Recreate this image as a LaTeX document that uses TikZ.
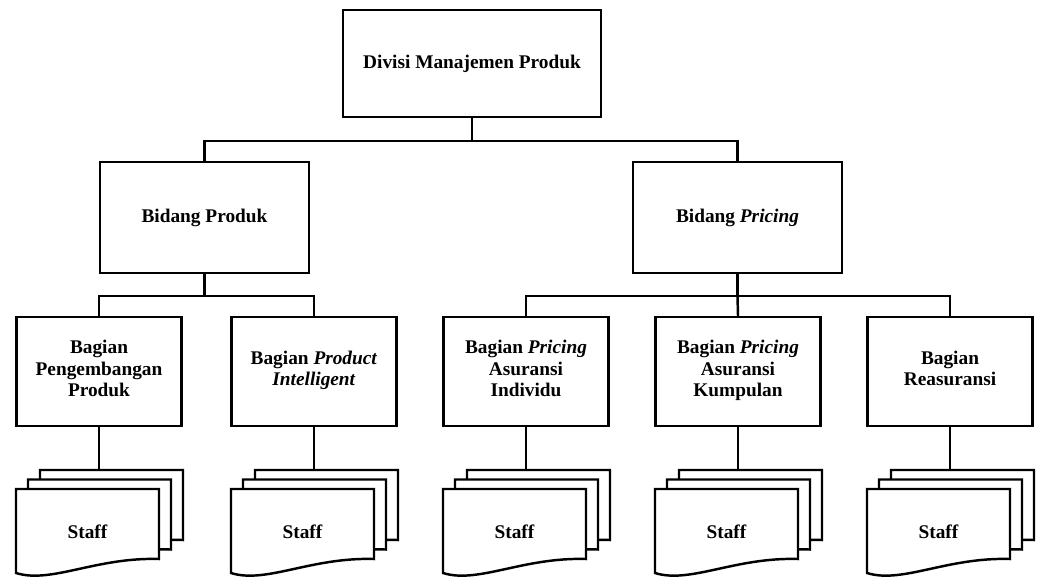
\documentclass[tikz,border=0pt]{standalone}
\usepackage{fontspec}
\setmainfont{Liberation Serif}

\begin{document}
\begin{tikzpicture}[
				x=0.02cm, y=-0.02cm,
				line width=1.4pt,
				box style/.style={
					draw,
					align=center,
					inner sep=2pt,
					font=\fontsize{11}{12}\selectfont\bfseries
				},
				top style/.style={box style, minimum width=5.16cm, minimum height=2.14cm},
				field style/.style={box style, minimum width=4.18cm, minimum height=2.22cm},
				unit style/.style={box style, minimum width=3.3cm, minimum height=2.18cm},
				staff stack/.pic={
					\foreach \dx/\dy in {24/-19,12/-9.5,0/0}
						\draw[fill=white, shift={(\dx,\dy)}] (0,0) -- (143,0) -- (143,70)
							.. controls (80,68) and (35,95) .. (0,84) -- cycle;
					\node[font=\fontsize{11}{12}\selectfont\bfseries] (-label) at (71.5,43) {Staff};
					\coordinate (-top) at (83,-19);
				}
				]
				
				\useasboundingbox (0,0) rectangle (1038,579);
				
				% top level
				\node[top style] (divisi) at (472,63.5) {Divisi Manajemen Produk};
				
				% bidang
				\node[field style] (produk) at (204.5,217.5) {Bidang Produk};
				\node[field style] (pricing) at (737.5,217.5) {Bidang \textit{Pricing}};
				
				% bagian
				\node[unit style] (b1) at (99,371.5) {Bagian\\Pengembangan\\Produk\strut};
				\node[unit style] (b2) at (314,371.5) {Bagian \textit{Product}\\\textit{Intelligent}\strut};
				\node[unit style] (b3) at (526,371.5) {Bagian \textit{Pricing}\\Asuransi\\Individu\strut};
				\node[unit style] (b4) at (738,371.5) {Bagian \textit{Pricing}\\Asuransi\\Kumpulan\strut};
				\node[unit style] (b5) at (950,371.5) {Bagian\\Reasuransi\strut};
				
				% staff
				\pic (s1) at (16,489) {staff stack};
				\pic (s2) at (231,489) {staff stack};
				\pic (s3) at (443,489) {staff stack};
				\pic (s4) at (655,489) {staff stack};
				\pic (s5) at (867,489) {staff stack};
				
				% connectors
				\draw (divisi.south) -- ++(0,23) coordinate (j1);
				\draw (produk.north) |- (j1) -| (pricing.north);
				
				\draw (produk.south) -- ++(0,22) coordinate (j2);
				\draw (b1.north) |- (j2) -| (b2.north);
				
				\draw (pricing.south) -- ++(0,22) coordinate (j3);
				\draw (b3.north) |- (j3) -| (b5.north);
				\draw (j3) -- (b4.north);
				
				\foreach \i in {1,...,5}
					\draw (b\i) -- (b\i |- s\i-top);
				
			\end{tikzpicture}
\end{document}
